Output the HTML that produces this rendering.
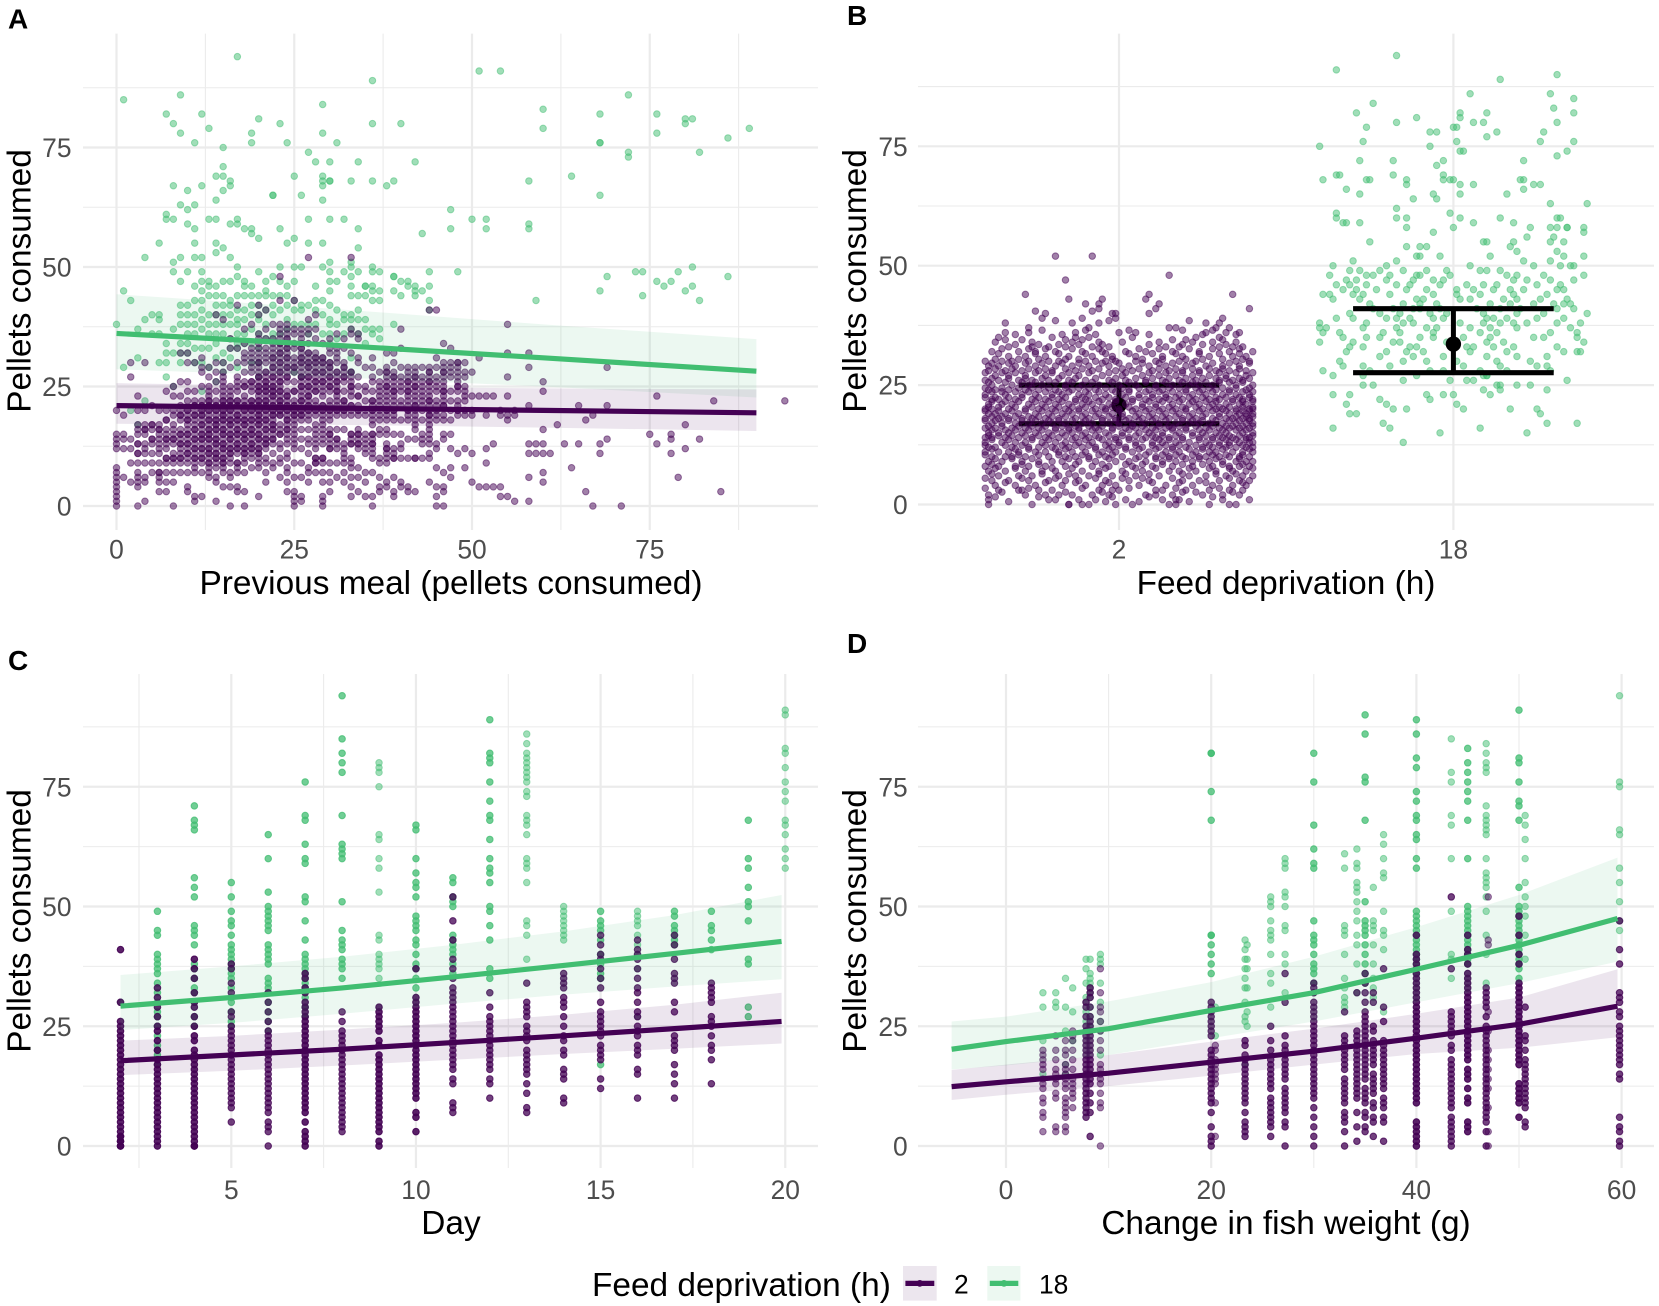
<!DOCTYPE html>
<html lang="en">
<head>
<meta charset="utf-8">
<title>Pellets consumed by feed deprivation</title>
<style>
html,body{margin:0;padding:0;background:#fff}
svg{display:block;font-family:"Liberation Sans",Arial,sans-serif}
.title{font-size:33.4px;fill:#000}
.letter{font-size:28px;font-weight:bold;fill:#000}
.tick{font-size:26.4px;fill:#4D4D4D}
.legtick{font-size:26.4px;fill:#000}
</style>
</head>
<body>
<svg id="fig" xmlns="http://www.w3.org/2000/svg" width="1659" height="1306" viewBox="0 0 1659 1306">
<rect x="0" y="0" width="1659" height="1306" fill="#fff"/>
<g id="panelA"></g>
<g id="panelB"></g>
<g id="panelC"></g>
<g id="panelD"></g>

<text class="letter" x="8" y="28.3">A</text>
<text class="letter" x="847" y="25">B</text>
<text class="letter" x="8" y="670">C</text>
<text class="letter" x="847" y="653">D</text>

<text class="title" x="451" y="594" text-anchor="middle">Previous meal (pellets consumed)</text>
<text class="title" x="1286" y="594" text-anchor="middle">Feed deprivation (h)</text>
<text class="title" x="451" y="1234" text-anchor="middle">Day</text>
<text class="title" x="1286" y="1234" text-anchor="middle">Change in fish weight (g)</text>

<text class="title" transform="translate(30.7,281) rotate(-90)" text-anchor="middle">Pellets consumed</text>
<text class="title" transform="translate(866,281) rotate(-90)" text-anchor="middle">Pellets consumed</text>
<text class="title" transform="translate(30.7,921) rotate(-90)" text-anchor="middle">Pellets consumed</text>
<text class="title" transform="translate(866,921) rotate(-90)" text-anchor="middle">Pellets consumed</text>

<g>
<text class="title" x="592" y="1295.8">Feed deprivation (h)</text>
<rect x="903" y="1266" width="33.7" height="34.6" fill="#ECE6EE"/>
<line x1="905.4" x2="934.3" y1="1283.4" y2="1283.4" stroke="#440154" stroke-width="5.2"/>
<circle cx="919.8" cy="1283.4" r="3.4" fill="#440154"/>
<text class="legtick" x="954" y="1293.4">2</text>
<rect x="987.3" y="1266" width="33.1" height="34.6" fill="#ECF8F1"/>
<line x1="989.8" x2="1018.3" y1="1283.4" y2="1283.4" stroke="#41BE71" stroke-width="5.2"/>
<circle cx="1004" cy="1283.4" r="3.4" fill="#41BE71"/>
<text class="legtick" x="1039" y="1293.4">18</text>
</g>
</svg>

<script>
// ---------- shared axis values ----------
const yMajorTicks = [0, 25, 50, 75];
const yMinorTicks = [12.5, 37.5, 62.5, 87.5];

// ---------- panel A: [previous meal, [pellets...]] ----------
const aTicks = [0, 25, 50, 75];
const aMinor = [12.5, 37.5, 62.5, 87.5];
const aPurple = [
[0,[0,1,2,3,4,5,6,7,8,12,13,14,15,20]],[1,[6,12,14,15,19]],[2,[5,9,12,14,27,30]],
[3,[0,4,5,6,7,9,11,13,15,16,17,20,23]],[4,[1,5,6,9,11,12,13,15,16,17,20,30]],[5,[7,9,11,13,14,16,17,21]],
[6,[3,5,6,7,9,11,12,13,14,15,16,17,20]],[7,[3,5,7,9,10,12,13,14,15,16,18,20,24]],
[8,[0,5,7,9,10,11,13,14,15,16,17,19,20,23,25]],[9,[7,9,10,11,12,13,14,15,16,18,19,20,21,23,26,32]],
[10,[3,4,7,9,10,11,12,13,14,15,16,17,18,19,20,22,24,26,30,32]],
[11,[1,2,7,8,9,10,11,12,13,14,15,16,17,18,19,20,21,22,24,30]],
[12,[2,7,9,10,11,12,13,14,15,16,17,18,19,20,21,22,25,28,29,31]],
[13,[6,7,8,9,10,11,12,13,14,15,16,17,18,19,20,21,22,23,24,25,27,29]],
[14,[1,5,6,8,9,10,11,12,13,14,15,16,17,18,19,20,21,22,24,26,28,30,40]],
[15,[4,7,8,9,10,11,12,13,14,15,16,17,18,19,20,21,22,23,24,25,26,27,28,30,39]],
[16,[0,4,6,7,9,10,11,12,13,14,15,16,17,18,19,20,21,22,23,24,25,29,33,35]],
[17,[3,4,7,8,9,11,12,13,14,15,16,17,18,19,20,21,22,24,25,26,27,30,33,42]],
[18,[0,3,7,9,10,11,12,13,14,15,16,17,18,19,20,21,22,23,25,26,28,30,31,32,34,37]],
[19,[8,10,11,12,13,14,15,16,17,18,19,20,21,22,24,25,26,28,29,30,31,32,33,38]],
[20,[2,8,9,10,11,12,13,14,15,16,17,18,19,20,21,22,23,24,25,26,27,28,29,30,31,32,33,34,35,36,40,42]],
[21,[5,7,9,10,12,13,14,15,16,17,18,19,20,21,22,23,24,25,26,27,28,30,31,32,33,35,37,41]],
[22,[8,9,11,13,14,15,16,17,18,19,20,21,22,23,24,25,26,27,28,29,30,31,32,33,34,35,38]],
[23,[6,9,10,12,13,15,16,17,19,20,21,22,23,24,25,26,27,28,29,30,31,32,33,34,35,36,37,38,43,48]],
[24,[3,5,7,8,10,11,13,14,15,16,17,18,19,20,21,22,23,24,26,27,28,29,30,31,32,33,34,35,36,37,38]],
[25,[0,1,2,3,6,9,12,13,14,15,16,17,18,19,20,21,22,24,26,28,29,30,31,33,34,36,37,43]],
[26,[1,2,6,9,12,14,16,18,19,20,21,22,23,24,25,26,27,28,29,30,31,32,33,34,35,36,37]],
[27,[5,7,8,11,13,14,16,18,19,20,21,22,23,24,25,26,27,28,29,30,31,32,34,36,37,39,52]],
[28,[7,9,10,12,13,14,15,16,17,19,20,21,22,24,25,26,27,28,29,30,31,32,35,37,40]],
[29,[0,1,2,5,7,9,10,13,14,15,16,17,18,19,20,21,23,24,25,26,27,28,29,30,31,34]],
[30,[3,5,7,9,12,13,14,15,16,18,19,20,21,22,24,25,26,27,28,29,30,32,33,35]],
[31,[6,9,12,13,14,16,19,20,21,22,23,24,25,26,27,28,30,31,32,33,36]],
[32,[5,7,9,10,11,12,13,16,19,20,21,22,24,26,27,28,29,30,33,35]],
[33,[2,4,6,8,9,10,13,14,15,19,20,21,23,24,25,26,27,28,32,36,37,52]],
[34,[3,6,8,12,13,14,15,16,19,20,21,23,25,27,30,31,35,36]],
[35,[2,5,7,11,12,13,14,15,19,20,22,24,25,29]],
[36,[0,2,7,10,11,12,13,14,15,17,18,19,20,21,22,24,26,27,29,31]],
[37,[3,4,6,9,10,15,16,18,19,20,21,22,23,24,25,26,28]],
[38,[4,5,9,10,11,12,13,15,16,18,19,20,21,22,23,24,25,26,27,28,29,32]],
[39,[2,3,6,10,11,12,15,18,19,20,21,22,23,24,25,26,27,28,30,32]],
[40,[4,5,10,12,13,15,18,21,22,24,25,26,27,29,33,37]],
[41,[3,4,10,14,18,19,20,21,22,23,24,25,26,27,28]],
[42,[3,10,14,16,17,18,19,20,21,22,23,24,25,26,27,28,29]],
[43,[10,13,14,15,18,20,21,22,23,24,25,26,27,29]],
[44,[5,10,11,13,14,15,16,17,18,19,20,21,22,23,24,25,26,27,28,29,41]],
[45,[0,2,4,8,12,13,18,19,20,21,22,24,25,26,27,29,31,41]],
[46,[0,3,4,7,14,15,18,19,21,22,23,24,25,26,27,28,29,30,34]],
[47,[6,8,12,15,18,20,22,24,27,28,29,30,33]],[48,[11,19,20,21,22,24,25,26,27,28,29,30]],
[49,[8,12,19,20,22,23,24,25,27,28,30]],[50,[5,11,19,20,23,28]],[51,[4,23,31]],[52,[4,9,12,19,23]],
[53,[4,13,23]],[54,[2,4,19,20]],[55,[2,18,19,23,27,32,38]],[56,[1,19,20]],[58,[1,6,11,13,21,29,32]],
[59,[11,13]],[60,[5,7,11,13,16,24,26]],[61,[11]],[62,[17]],[63,[13]],[64,[8]],[65,[13,21]],[66,[3,18]],
[67,[0,19]],[68,[11,13]],[69,[14,21,29]],[71,[0]],[75,[15]],[76,[13,23]],[78,[11,14,15]],[79,[6]],
[80,[12,17]],[82,[14]],[84,[22]],[85,[3]],[94,[22]]
];
// values seen more than once (the darker dots of panel A)
const aPurpleRepeated = [
[3,[11,13]],[4,[16]],[5,[14,17]],[6,[7,16]],[7,[10,14,18]],[8,[10,14]],[9,[10,13,15,19]],[10,[11,13,15,18,20]],
[11,[10,12,14,16,19,21]],[12,[10,12,14,15,17,19,20,21]],[13,[9,11,12,14,15,16,18,20,21,22]],
[14,[10,11,13,14,16,17,18,20,21]],[15,[9,10,12,13,15,16,18,19,20,21,22]],[16,[11,12,14,15,17,18,20,21,22]],
[17,[9,12,13,15,16,18,19,21,22]],[18,[11,12,14,15,17,18,20,21,25]],[19,[12,13,15,16,18,20,21,22,26]],
[20,[11,12,14,15,17,18,19,20,21,22,24,25,27,30]],[21,[13,14,16,18,20,21,22,24,25,26,28]],
[22,[14,16,17,19,20,21,23,24,25,27,29,31]],[23,[15,19,20,21,22,24,26,28,30,32,34]],
[24,[16,18,20,21,23,27,29,31,33,35]],[25,[19,20,21,24,29]],[26,[19,20,22,25,27,30,31,33]],
[27,[20,21,23,25,27,29,30,32]],[28,[9,10,20,24,26,28,30,31]],[29,[10,20,21,26,28,30,31]],
[30,[12,15,20,25,27,29,30]],[31,[14,20,24,26,28]],[32,[20,22,27,29]],[33,[13,15,21,25,28]],[34,[13,15,20,23]],
[36,[13,15,20,22]],[38,[12,20,25,28]],[39,[10,20,24,27]],[41,[20,24,26,29]],[42,[10,21,25,27]],[44,[19,22,26,28]],
[46,[21,24,28]],[48,[20,25,30]]
];
const aGreen = [
[0,[38]],[1,[29,45,85]],[2,[20,43]],[3,[31,37,17]],[4,[22,39,52]],[5,[36,40]],[6,[30,36,39,40,55]],
[7,[27,30,32,34,60,61,82]],[8,[25,32,37,49,51,60,67,80]],[9,[30,32,34,38,40,42,47,52,63,78,86]],
[10,[32,34,36,38,40,42,49,59,62,66]],[11,[30,33,36,38,40,43,46,52,55,58,63,76]],
[12,[24,30,33,37,39,41,43,45,47,49,52,67,82]],[13,[29,33,36,38,40,44,46,47,60,79]],
[14,[26,31,34,36,38,40,42,44,46,53,55,60,64,69]],[15,[28,30,32,36,38,40,42,44,47,54,66,69,71,75]],
[16,[31,33,35,38,40,42,43,47,52,59,67,68]],[17,[29,33,34,36,38,39,41,44,48,50,59,60,94]],
[18,[34,36,39,41,44,46,47,58]],[19,[30,34,37,40,42,44,46,57,58,76,78]],
[20,[27,30,33,36,39,40,42,44,49,56,81]],[21,[35,38,41,44,45,47]],[22,[35,36,40,42,44,48,65,65]],
[23,[36,41,44,47,50,58,80]],[24,[37,39,42,44,46,55,76]],[25,[28,38,41,43,47,50,56,69]],
[26,[27,38,41,42,50,65]],[27,[36,38,42,55,60,74]],[28,[38,41,43,46,72]],
[29,[36,40,43,50,55,64,67,68,69,78,84]],[30,[34,36,38,39,42,45,47,49,51,60,68,68,72]],
[31,[35,38,41,47,76]],[32,[36,39,40,49,60]],[33,[28,31,37,39,40,44,46,48,50,51,68]],
[34,[36,39,41,44,49,54,58,72]],[35,[34,37,39,44,46,46]],[36,[36,37,43,45,46,49,50,68,80,89]],
[37,[35,37,43,45,49]],[38,[67]],[39,[38,45,48,48,68]],[40,[44,47,80]],[41,[46,47]],[42,[44,45,46,72]],
[43,[45,57]],[44,[41,43,46,49]],[47,[58,62]],[48,[49]],[50,[60]],[51,[91]],[52,[58,60]],[54,[91]],
[58,[58,59,68]],[59,[43]],[60,[79,83]],[64,[69]],[68,[45,65,76,76,82]],[69,[48]],[72,[73,74,86]],
[73,[49]],[74,[44,49]],[76,[47,78,82]],[77,[46]],[78,[47]],[79,[49]],[80,[45,80,81]],[81,[46,50,81]],
[82,[43,74]],[86,[48,77]],[89,[79]]
];
const aFitX = [0, 30, 60, 90];
const aFit2 = [21, 20.5, 20, 19.5];
const aLow2 = [17.2, 17, 16.4, 15.7];
const aHigh2 = [25.7, 25, 24.6, 24.4];
const aFit18 = [36.1, 33.7, 31, 28.2];
const aLow18 = [28.6, 27, 25, 22.7];
const aHigh18 = [44.3, 41.3, 38, 34.9];

// ---------- panel B: [pellets, [horizontal jitter, hundredths of a category...]] ----------
const bCategories = ["2", "18"];
const bPurple = [
[0,[-39,-26,-15,-15,-11,-9,-1,4,15,17,27,33,35]],
[1,[-39,-19,-21,-12,-7,2,13,17,18,31,39]],
[2,[-39,-28,-22,-18,-14,-8,-3,8,11,16,25,31,36]],
[3,[-36,-30,-29,-24,-20,-6,-2,0,11,13,20,27,33,37]],
[4,[-37,-31,-25,-17,-10,-5,-1,6,14,22,28,34,38]],
[5,[-38,-33,-27,-21,-16,-12,-4,3,9,19,24,30,36,39]],
[6,[-36,-30,-26,-18,-13,-9,-2,5,12,21,26,32,37,40]],
[7,[-39,-34,-28,-23,-19,-11,-6,1,7,15,18,23,29,34,38]],
[8,[-40,-36,-31,-27,-22,-16,-8,-3,4,10,16,22,28,33,36,39]],
[9,[-39,-35,-29,-24,-20,-17,-12,-7,-1,3,8,13,17,22,27,31,35,38,40]],
[10,[-38,-34,-32,-28,-21,-16,-13,-9,-4,1,6,11,15,19,24,26,30,33,36,39]],
[11,[-40,-36,-33,-30,-25,-22,-18,-14,-10,-5,-1,4,9,14,18,23,27,29,34,37,40]],
[12,[-39,-37,-32,-27,-24,-20,-15,-11,-7,-2,2,7,12,16,20,25,28,32,35,38,40]],
[13,[-40,-35,-31,-28,-23,-19,-16,-12,-8,-3,0,5,10,13,17,21,26,30,33,36,39,40]],
[14,[-40,-38,-34,-30,-26,-22,-18,-13,-9,-6,-1,3,8,11,15,19,24,28,31,34,38,39]],
[15,[-39,-36,-33,-29,-25,-21,-17,-14,-10,-4,1,6,9,13,18,22,25,29,32,37,40]],
[16,[-40,-37,-32,-28,-24,-19,-15,-12,-7,-2,2,5,10,14,16,20,26,30,33,36,39]],
[17,[-38,-35,-31,-27,-23,-20,-16,-11,-8,-3,0,4,8,12,17,21,24,27,31,35,38,40]],
[18,[-40,-36,-33,-29,-26,-22,-18,-13,-9,-5,-1,3,7,11,15,19,23,28,32,34,37,39]],
[19,[-39,-37,-34,-30,-25,-21,-17,-14,-10,-6,-2,1,6,10,14,18,22,26,30,33,36,38,40]],
[20,[-40,-38,-33,-28,-24,-20,-16,-12,-7,-4,0,5,9,13,17,20,25,29,31,35,39,40]],
[21,[-39,-35,-32,-27,-23,-19,-15,-11,-8,-3,2,7,11,16,21,24,28,32,36,38]],
[22,[-38,-36,-31,-26,-22,-18,-13,-10,-5,-1,4,8,12,15,19,23,27,30,34,37,40]],
[23,[-40,-34,-29,-25,-20,-17,-12,-9,-4,1,6,10,14,18,22,26,31,35,39]],
[24,[-39,-37,-33,-28,-24,-19,-14,-7,-2,3,9,13,20,25,29,33,38]],
[25,[-38,-32,-27,-23,-16,-11,-6,0,5,11,16,21,24,28,35,40]],
[26,[-40,-36,-30,-26,-21,-15,-10,-3,2,8,13,18,23,30,34,37]],
[27,[-37,-33,-28,-22,-17,-12,-5,1,7,12,17,22,27,32,38]],
[28,[-39,-34,-29,-24,-20,-13,-8,-1,4,10,15,19,24,29,33,38]],
[29,[-39,-36,-31,-25,-19,-14,-9,-3,3,9,14,20,26,31,36]],
[30,[-40,-35,-32,-27,-21,-18,-10,-7,-4,-1,5,11,18,23,35,39]],
[31,[-33,-28,-22,-15,-8,-2,5,13,19,27,34,38]],
[32,[-38,-30,-25,-19,-11,-5,2,8,16,24,33,40]],
[33,[-33,-26,-21,-16,-8,-3,14,18,30,34,37]],
[34,[-37,-26,-14,-6,1,12,22,28,35]],
[35,[-36,-20,-13,-9,4,23,30]],
[36,[-34,-27,-13,0,5,26,32,36]],
[37,[-27,-9,15,17,29,33]],
[38,[-34,-14,-6,26,30]],
[39,[-23,-1,-11,31]],
[40,[-22,-2,-1,9]],
[41,[-6,11,39]],
[42,[-10,-6,12]],
[43,[-5,8,-15]],
[44,[-28,9,34]],
[47,[-16]],
[48,[15]],
[52,[-19,-8]]
];
// additional jittered readings that fall between whole pellet values
const bPurpleBetween = [
[0.6,[-33,-4,6,21]],[1.6,[-37,-24,-2,9,28]],[2.6,[-35,-16,-5,19,23,34]],[3.4,[-40,-27,-11,3,17,30]],
[4.6,[-34,-22,-13,-3,10,18,26,37]],[5.5,[-40,-29,-19,-7,1,7,16,33]],[6.4,[-38,-23,-15,-6,2,9,19,29,35]],
[7.6,[-37,-31,-20,-14,-4,5,11,21,27,33,40]],[8.4,[-38,-29,-24,-13,-5,2,7,13,19,25,31,37]],
[9.6,[-37,-32,-26,-15,-9,-3,5,11,15,20,24,29,36]],[10.4,[-40,-30,-24,-18,-11,-6,-2,8,13,17,22,28,32,37]],
[11.6,[-38,-31,-27,-19,-16,-7,-3,2,6,11,16,21,25,31,39]],[12.4,[-40,-34,-29,-22,-17,-13,-9,-4,0,5,10,14,18,23,27,30,33,37]],
[13.6,[-38,-33,-26,-21,-14,-10,-5,-1,3,7,12,15,19,24,28,32,35,38]],
[14.4,[-39,-36,-32,-28,-24,-20,-16,-11,-7,-3,1,5,10,13,17,22,26,30,33,36,40]],
[15.6,[-38,-34,-31,-27,-23,-19,-15,-12,-8,-6,-2,3,8,11,16,20,24,27,31,35,38]],
[16.4,[-39,-35,-30,-26,-22,-17,-13,-9,-5,0,4,7,12,15,18,23,28,32,34,37,40]],
[17.6,[-40,-37,-33,-29,-25,-21,-18,-14,-10,-5,-1,2,6,10,14,19,22,25,29,33,36,39]],
[18.4,[-38,-35,-31,-27,-24,-20,-16,-11,-7,-3,1,5,9,13,17,21,25,30,35,38,40]],
[19.6,[-40,-36,-32,-28,-23,-19,-15,-12,-8,-4,0,4,8,12,16,20,24,28,32,35,37,39]],
[20.4,[-39,-36,-31,-26,-22,-18,-14,-10,-5,-2,3,7,11,15,19,23,27,30,33,37,40]],
[21.6,[-38,-34,-30,-25,-21,-17,-13,-9,-6,-1,4,9,13,18,22,26,29,34,37,40]],
[22.4,[-40,-37,-33,-29,-24,-20,-16,-11,-7,-3,2,6,10,14,17,21,25,29,32,36,39]],
[23.6,[-38,-35,-31,-27,-22,-18,-15,-10,-6,-1,3,8,12,16,20,24,28,33,37,40]],
[24.4,[-40,-35,-30,-26,-21,-16,-12,-9,-4,1,6,11,15,18,23,27,31,35,39]],
[25.6,[-39,-34,-29,-25,-19,-14,-8,-2,3,8,14,19,22,26,30,33,37]],
[26.4,[-38,-33,-28,-23,-18,-13,-7,-1,5,10,15,20,25,29,32,36,39]],
[27.6,[-40,-35,-31,-25,-20,-15,-9,-3,2,9,14,19,24,30,35,40]],
[28.4,[-37,-32,-27,-22,-16,-11,-6,1,6,12,17,22,27,31,36]],
[29.6,[-38,-33,-28,-23,-17,-12,-5,0,7,12,16,22,28,33,39]],
[30.4,[-37,-30,-24,-16,-12,-2,7,13,20,25,31,37]],
[31.6,[-36,-25,-18,-10,-4,3,10,17,24,30,36]],[32.6,[-35,-27,-22,-14,-6,6,12,21,28,36]],
[33.5,[-31,-24,-18,-12,-5,9,19,25,32]],[34.5,[-34,-29,-16,-11,16,20,31]],[35.6,[-31,-17,-7,9,25,35]],
[36.5,[-23,-10,3,19,28]],[38.5,[-19,-3,21]],[40.5,[-25,-8]]
];
const bGreen = [
[-17,94],[-35,91],[14,89],[31,90],[29,86],[36,85],[5,86],[-24,84],[30,83],[-29,82],[2,82],[36,82],[2,81],[-26,79],[-17,80],[-11,81],[6,80],[9,80],[10,82],[0,79],[1,79],[-7,78],[-5,78],[10,77],[13,78],[27,78],[31,80],[-27,76],[-7,75],[1,76],[26,76],[36,76],[-40,75],[2,74],[3,74],[34,74],[31,73],[-28,72],[-18,72],[-5,71],[-3,72],[21,72],[-35,69],[-34,69],[-39,68],[-18,69],[-26,68],[-25,68],[-3,69],[-3,68],[-1,68],[0,68],[2,67],[6,67],[-14,68],[-14,67],[20,68],[21,66],[24,67],[26,67],[21,68],[-32,66],[-28,65],[-6,65],[-5,64],[2,65],[16,65],[-12,64],[29,63],[40,63],[-1,61],[-17,62],[-35,61],[-35,60],[-17,60],[-32,59],[-33,59],[-28,59],[2,60],[-14,60],[14,60],[18,59],[31,60],[32,60],[6,59],[23,58],[-14,58],[29,58],[31,58],[34,58],[34,58],[39,58],[-6,57],[0,58],[30,56],[39,57],[22,56],[18,55],[29,55],[33,55],[9,55],[10,55],[-25,55],[17,54],[-14,54],[-10,54],[-8,54],[19,53],[31,53],[-4,52],[33,52],[39,52],[-10,52],[11,52],[-11,52],[29,51],[21,51],[-30,51],[32,50],[35,50],[36,50],[-36,50],[-20,50],[-17,51],[5,50],[24,50],
[-31,49],[-28,49],[-22,49],[-15,49],[-8,49],[-2,49],[8,49],[10,49],[14,49],[-37,48],[-26,48],[-24,48],[-19,48],[-11,48],[-10,48],[-1,48],[16,48],[19,48],[27,48],[39,48],
[-32,47],[-29,47],[-20,47],[-12,47],[-6,47],[-3,47],[18,47],[22,47],[29,47],[36,47],[-35,46],[-31,46],[-26,46],[-17,46],[-13,46],[-4,46],[4,46],[9,46],[13,46],[25,46],[32,46],[-33,45],[-29,45],[-23,45],[-14,45],[-8,45],[1,45],[6,45],[12,45],[17,45],[21,45],[31,45],[33,45],
[-39,44],[-37,44],[-30,44],[-27,44],[-19,44],[-6,44],[1,44],[8,44],[18,44],[28,44],[-36,43],[-28,43],[-11,43],[-9,43],[2,43],[5,43],[15,43],[19,43],[26,43],[34,43],[-25,42],[-15,42],[-10,42],[-5,42],[11,42],[17,42],[24,42],[30,42],[33,42],[35,42],
[-24,41],[-18,41],[-12,41],[-10,41],[-4,41],[7,41],[14,41],[20,41],[31,41],[36,41],[-31,40],[-22,40],[-16,40],[-7,40],[-2,40],[9,40],[19,40],[27,40],[40,40],[-35,39],[-30,39],[-20,39],[-17,39],[-13,39],[-6,39],[-3,39],[10,39],[12,39],[16,39],[25,39],[33,39],
[-40,38],[-26,38],[-15,38],[-12,38],[2,38],[9,38],[14,38],[18,38],[22,38],[31,38],[38,38],[-40,37],[-38,37],[-27,37],[-17,37],[-8,37],[-5,37],[5,37],[11,37],[19,37],[35,37],[-39,36],[-34,36],[-21,36],[-16,36],[-6,36],[8,36],[13,36],[29,36],[37,36],
[-33,35],[-26,35],[-22,35],[-10,35],[-6,35],[3,35],[11,35],[24,35],[27,35],[37,35],[-40,34],[-30,34],[-18,34],[-16,34],[-2,34],[10,34],[15,34],[39,34],[-31,33],[-27,33],[-13,33],[-11,33],[4,33],[6,33],[12,33],[18,33],[31,33],[-32,32],[-20,32],[-14,32],[-9,32],[5,32],[16,32],[33,32],[37,32],[38,32],
[-22,31],[-12,31],[-3,31],[10,31],[19,31],[28,31],[-34,30],[-15,30],[-8,30],[1,30],[13,30],[23,30],[-33,29],[-27,29],[-19,29],[3,29],[14,29],[25,29],[28,29],[-39,28],[-25,28],[-7,28],[-3,28],[8,28],[16,28],[29,28],[-27,27],[-11,27],[9,27],[10,27],[-36,27],[-15,26],
[-1,26],[34,26],[-27,25],[-24,25],[4,26],[6,26],[10,27],[14,25],[23,25],[19,25],[13,25],[9,24],[11,23],[14,24],[28,24],[-36,23],[-31,23],[-8,23],[-7,22],[-3,23],[0,23],[-22,22],[-20,21],[-32,21],[1,21],[3,20],[-31,19],[-29,19],[-18,20],[-14,20],[17,20],[25,20],[26,19],[28,17],[37,17],[-21,17],[-19,16],[-36,16],[8,16],[-4,15],[22,15],[-15,13]
];
const bLow = [16.9, 27.6];
const bHigh = [25, 41];
const bMean = [20.8, 33.6];

// ---------- panel C: [day, [pellets...]] ----------
const cTicks = [5, 10, 15, 20];
const cMinor = [2.5, 7.5, 12.5, 17.5];
const cPurple = [
[2,[0,0,1,1,2,2,3,4,5,6,7,8,9,10,11,12,13,14,15,16,17,18,19,20,21,22,23,24,25,26,30,41]],
[3,[0,1,2,3,4,5,6,7,8,9,10,11,12,13,14,15,16,17,18,20,22,24,25,27,29,31,33]],
[4,[0,0,1,2,3,4,5,6,7,8,9,10,11,12,13,14,15,16,17,18,19,20,22,23,25,27,29,30,32,35,37,39]],
[5,[5,8,9,10,11,12,13,14,15,16,17,18,19,20,21,22,23,24,25,27,28,32,34,37,38]],
[6,[0,3,4,5,7,8,9,10,11,12,13,14,15,16,17,18,19,20,21,22,23,24,26,28,30,32]],
[7,[0,1,2,3,5,7,8,9,10,11,12,13,14,15,16,17,18,19,20,21,22,23,24,25,26,27,28,29,30,32,33,35,36]],
[8,[3,4,5,6,7,8,9,10,11,12,13,14,15,16,17,18,19,20,21,22,23,24,26,28]],
[9,[0,1,3,4,5,6,7,8,9,10,11,12,13,14,15,16,17,18,19,21,22,24,25,26,27,28,29]],
[10,[3,6,7,10,11,12,13,14,15,16,17,18,19,20,21,22,23,24,25,26,27,28,29,30,31,37]],
[11,[7,8,9,13,14,16,17,18,19,20,21,22,23,24,25,26,27,28,29,30,31,32,33,35,37,39,43,47,52]],
[12,[10,13,14,16,17,18,19,20,21,22,23,24,25,26,27,29,32]],
[13,[7,8,11,13,15,16,17,18,19,20,22,23,24,25,27,28,29,30,34]],
[14,[9,10,14,15,16,19,20,22,23,25,27,29,30,31,33,34,35,36]],
[15,[12,14,18,19,20,21,23,24,25,26,27,28,30,33,35,37,39,40,42,44]],
[16,[10,15,16,19,20,21,23,24,25,27,28,30,32,33,35,37,39,40,41,43]],
[17,[10,13,15,17,20,21,22,23,28,30,34,35,36,39,42,44]],
[18,[13,18,20,21,23,25,26,27,30,31,32,33,34]]
];
// how many observations share each value in a column
const cPurpleCount = [3,3,3,2,2,3,2,3,3,2,2,2,2,2,2,2,2];
const cGreen = [
[2,[30]],[3,[17,19,20,21,23,25,27,28,30,32,34,36,37,38,39,40,44,45,49]],
[4,[25,27,30,32,33,35,37,38,42,44,45,46,52,54,56,66,67,68,71]],
[5,[25,26,28,30,31,33,35,36,37,38,39,40,41,42,44,46,47,49,52,55]],
[6,[24,26,28,30,32,33,34,35,38,39,40,41,42,45,46,47,48,49,50,53,60,65]],
[7,[27,29,31,33,34,35,36,37,38,39,40,43,47,51,52,59,60,63,68,69,76]],
[8,[35,37,38,39,41,42,43,45,51,60,61,62,63,69,78,80,82,85,94]],
[9,[35,37,38,39,40,43,44,53,58,60,64,65,75,78,79,80]],
[10,[33,35,37,38,40,42,43,45,46,47,48,52,54,55,57,60,66,67]],
[11,[36,38,40,41,42,43,44,50,51,52,55,56]],
[12,[35,37,43,46,49,50,55,57,58,60,64,68,69,72,76,80,81,82,89]],
[13,[39,44,46,47,55,58,59,60,65,67,68,69,73,74,76,77,78,79,80,81,82,84,86]],
[14,[43,44,45,46,47,48,49,50]],[15,[17,35,36,38,40,43,45,46,47,49]],
[16,[27,37,40,42,44,46,47,48,49]],[17,[42,43,44,45,46,48,49]],[18,[41,43,45,46,49]],
[19,[27,29,38,39,47,50,51,54,58,60,68]],[20,[58,60,62,65,67,68,72,74,76,79,82,83,90,91]]
];
const cGreenCount = [1,2,2,2,2,2,2,1,2,2,2,1,1,2,1,2,2,2,1,1];
const cFitX = [2, 5, 8, 11, 14, 17, 19.9];
const cFit2 = [17.8, 19, 20.2, 21.6, 23, 24.5, 26];
const cLow2 = [14.8, 15.7, 16.8, 18, 19.2, 20.3, 21.4];
const cHigh2 = [22, 23, 24.3, 25.7, 27.4, 29.5, 32];
const cFit18 = [29.2, 31, 33, 35.3, 37.7, 40.2, 42.7];
const cLow18 = [24.2, 25.7, 27.6, 29.7, 31.6, 33.3, 34.8];
const cHigh18 = [35.7, 37.5, 39.5, 42, 44.8, 48.2, 52.4];

// ---------- panel D: [weight change, [pellets...]] ----------
const dTicks = [0, 20, 40, 60];
const dMinor = [10, 30, 50];
const dPurple = [
[3.6,[3,6,7,9,10,12,13,14,16,17,18,19,20]],[4.85,[3,4,10,11,13,14,15,16,18,20,23]],
[5.8,[3,4,6,7,8,9,10,12,13,14,15,16,17,19,20,22]],[6.5,[8,10,11,12,13,14,16,18,20,22,23,24]],
[7.8,[6,7,8,9,10,11,12,13,14,15,16,17,18,19,20,21,22,23,24,25,27,29,30]],
[8.2,[2,7,9,11,13,14,15,16,17,18,19,20,21,22,23,24,25,26,27,29,31,32,33]],
[9.2,[0,8,9,11,13,14,15,16,17,20,22,24,26,28,29,32,37]],
[20,[0,1,2,4,7,9,10,11,12,13,14,15,16,17,18,19,20,23,24,25,26,27,28,29,30]],
[20.4,[2,9,13,14,15,16,17,18,20,21]],
[23.3,[2,3,4,5,7,9,10,11,12,13,14,15,16,17,18,19,21,22]],
[25.8,[2,4,5,6,7,8,9,10,12,13,14,15,16,17,18,20,22,25]],
[27.2,[0,4,5,7,8,9,10,11,12,14,15,16,17,18,19,20,21,23,30,36]],
[30,[0,2,4,6,8,10,11,12,13,14,15,16,17,18,19,20,21,22,23,24,25,26,27,28,29,30,32,33,34]],
[33,[0,3,5,6,7,9,10,11,12,13,14,16,17,18,19,20,21,22,23,28]],
[34.2,[1,4,7,10,11,12,13,14,15,16,17,18,19,20,21,22,23,24,32]],
[35,[3,4,6,7,9,10,11,12,14,15,16,17,18,19,20,21,22,23,24,25,26,27,28,30,32,34,36]],
[35.8,[2,5,6,8,9,11,12,13,14,15,17,18,19,20,21,22,24,25,30,32]],
[36.8,[1,5,6,8,9,10,12,13,14,15,16,17,18,19,20,21,22,26,29,37]],
[40,[0,1,2,3,4,5,9,10,11,12,13,14,15,16,17,18,19,20,21,22,23,24,25,26,27,28,29,30,31,32,33,34,35,36,37,38,39,40,44]],
[43.4,[0,1,2,3,4,5,6,8,9,10,11,12,13,14,15,16,17,18,20,21,23,24,25,26,27,28,37,52]],
[45,[3,4,5,9,10,12,14,15,16,18,19,20,21,22,23,24,25,26,27,28,29,30,31,32,33,34,35,36,38,40,41,44]],
[46.8,[0,3,5,6,7,8,9,10,11,12,13,14,15,16,17,18,19,20,21,22,23,24,25,27,29,30,31,32,33]],
[47,[0,3,8,12,14,16,18,20,24,28,42,43,52]],
[50,[6,9,10,11,12,13,17,18,19,20,21,22,23,24,25,26,27,28,29,30,31,32,33,34,38,40,44,48]],
[50.6,[4,5,8,9,10,11,12,13,14,15,16,17,18,20,22,23,29]],
[59.8,[0,1,3,4,6,14,15,17,18,19,20,21,22,23,24,25,27,28,30,31,32,38,41,47]]
];
const dPurpleCount = [1,1,1,1,2,2,1,2,1,2,2,2,2,2,2,2,2,2,3,2,3,2,1,3,2,2];
const dGreen = [
[3.6,[15,22,29,32]],[4.85,[29,30,32]],[5.8,[15,17,24,29,35]],[6.5,[22,28,33]],
[7.8,[24,26,28,30,31,34,37,39]],[8.2,[24,25,27,29,31,32,33,34,35,36,39]],[9.2,[19,24,26,30,34,38,39,40]],
[20,[36,38,40,42,44,44,68,74,82,82]],[20.4,[23,29]],[23.3,[17,26,27,30,33,35,37,39,41,43]],
[23.5,[25,28,33,37,39,42]],[25.8,[29,34,36,40,43,44,45,47,50,51,52]],[27.2,[32,38,40,45,46,50,52,53,58,59,60]],
[30,[32,34,36,37,38,40,42,43,44,47,58,59,62,67,76,82]],[33,[29,30,31,33,35,40,44,45,46,58,61]],
[34.2,[32,38,42,44,47,49,51,53,54,55,58,59,62]],[35,[34,36,38,40,42,44,45,46,47,51,68,76,77,86,90]],
[35.8,[31,33,35,38,42,45,46,47,54]],[36.8,[28,41,44,45,49,56,57,60,63,65]],
[40,[36,37,38,39,40,41,42,43,44,45,46,47,48,49,58,60,64,65,68,69,72,74,79,81,86,89]],
[43.4,[35,39,40,49,60,67,69,76,78,85]],
[45,[38,39,40,41,42,43,44,45,46,47,48,49,50,60,68,72,74,76,78,80,83]],
[46.8,[34,40,44,49,52,54,55,56,57,60,65,66,67,68,69,71,78,79,80,82,84]],
[50,[35,37,38,39,40,41,42,43,44,45,46,47,48,49,50,54,68,71,72,76,80,81,91]],
[50.6,[39,44,48,50,52,55,60,64,67,69]],[59.8,[45,47,51,55,58,65,66,75,76,94]]
];
const dGreenCount = [1,1,1,1,1,1,1,2,1,1,1,1,1,2,1,1,2,1,1,2,1,2,1,2,1,1];
const dFitX = [-5.3, 0, 10, 20, 30, 40, 50, 59.6];
const dFit2 = [12.4, 13.4, 15.2, 17.5, 19.8, 22.5, 25.4, 29.2];
const dLow2 = [9.6, 10.7, 12.5, 14.7, 17, 19.2, 20.5, 22.7];
const dHigh2 = [15.9, 17, 19, 21.8, 24.5, 27.6, 31, 36.9];
const dFit18 = [20.2, 21.8, 24.5, 28.3, 32, 36.9, 41.9, 47.5];
const dLow18 = [16, 16.8, 19, 22.5, 26, 30, 34, 38.5];
const dHigh18 = [26, 27, 30.2, 34.2, 39.5, 45.7, 52.4, 60.2];

// ---------- axis functions ----------
const NS = "http://www.w3.org/2000/svg";
const PURPLE = "#440154", GREEN = "#41BE71";
const xA = v => 116.5 + 7.11 * v;
const yA = v => 506 - 4.78 * v;
const xB = i => 1119 + 334.4 * i;
const yB = v => 504.5 - 4.776 * v;
const xC = v => 231.3 + 36.93 * (v - 5);
const yC = v => 1146 - 4.79 * v;
const xD = v => 1006 + 10.26 * v;
const yD = v => 1146 - 4.79 * v;

function mk(parent, tag, attrs) {
  const el = document.createElementNS(NS, tag);
  for (const k in attrs) el.setAttribute(k, attrs[k]);
  parent.appendChild(el);
  return el;
}

function drawPoint(g, px, py, color, name) {
  const c = mk(g, "circle", {cx: px, cy: py, r: 3.25, fill: color, "fill-opacity": 0.5, stroke: color, "stroke-opacity": 0.5, "stroke-width": 1});
  
  
}

function drawGrid(g, box, sx, sy, xMajor, xMinor, xLabels, tickRight, tickBase) {
  yMinorTicks.forEach(v => {
    const l = mk(g, "line", {x1: box.L, x2: box.R, y1: sy(v), y2: sy(v), stroke: "#EBEBEB", "stroke-width": 1.1});
    
    
  });
  xMinor.forEach(v => {
    const l = mk(g, "line", {x1: sx(v), x2: sx(v), y1: box.T, y2: box.B, stroke: "#EBEBEB", "stroke-width": 1.1});
    
    
  });
  yMajorTicks.forEach(v => {
    const l = mk(g, "line", {x1: box.L, x2: box.R, y1: sy(v), y2: sy(v), stroke: "#EBEBEB", "stroke-width": 2.2});
    
    
    const t = mk(g, "text", {x: tickRight, y: sy(v) + 9.5, "text-anchor": "end", class: "tick"});
    t.textContent = String(v);
    
    
  });
  xMajor.forEach((v, i) => {
    const l = mk(g, "line", {x1: sx(v), x2: sx(v), y1: box.T, y2: box.B, stroke: "#EBEBEB", "stroke-width": 2.2});
    
    
    const t = mk(g, "text", {x: sx(v), y: tickBase, "text-anchor": "middle", class: "tick"});
    t.textContent = xLabels[i];
    
    
  });
}

function drawColumns(g, cols, sx, sy, color, name, counts) {
  cols.forEach((col, i) => {
    const n = counts ? counts[i] : 1;
    col[1].forEach(v => {
      for (let k = 0; k < n; k++) drawPoint(g, sx(col[0]), sy(v), color, name);
    });
  });
}

function drawFit(g, xs, low, high, fit, sx, sy, color, name) {
  let d = "";
  xs.forEach((x, i) => { d += (i ? "L" : "M") + sx(x) + " " + sy(high[i]); });
  for (let i = xs.length - 1; i >= 0; i--) d += "L" + sx(xs[i]) + " " + sy(low[i]);
  const r = mk(g, "path", {d: d + "Z", fill: color, "fill-opacity": 0.1});
  
  
  let f = "";
  xs.forEach((x, i) => { f += (i ? "L" : "M") + sx(x) + " " + sy(fit[i]); });
  const p = mk(g, "path", {d: f, fill: "none", stroke: color, "stroke-width": 5.2});
  
  
}

// ---------- panel A ----------
const gA = document.getElementById("panelA");
drawGrid(gA, {L: 83, R: 818, T: 33.6, B: 530}, xA, yA, aTicks, aMinor, aTicks.map(String), 71.5, 558.6);
drawColumns(gA, aGreen, xA, yA, GREEN, "point-18h");
drawColumns(gA, aPurple, xA, yA, PURPLE, "point-2h");
drawColumns(gA, aPurpleRepeated, xA, yA, PURPLE, "point-2h");
drawFit(gA, aFitX, aLow18, aHigh18, aFit18, xA, yA, GREEN, "fit-18h");
drawFit(gA, aFitX, aLow2, aHigh2, aFit2, xA, yA, PURPLE, "fit-2h");

// ---------- panel B ----------
const gB = document.getElementById("panelB");
drawGrid(gB, {L: 918, R: 1654, T: 33.6, B: 530}, xB, yB, [0, 1], [], bCategories, 907.7, 558.6);
bGreen.forEach(pt => {
  drawPoint(gB, xB(1 + pt[0] / 100), yB(pt[1]), GREEN, "point-18h");
});
bCategories.forEach((cat, i) => {
  const v = mk(gB, "line", {x1: xB(i), x2: xB(i), y1: yB(bLow[i]), y2: yB(bHigh[i]), stroke: "#000", "stroke-width": 5});
  
  
  const lo = mk(gB, "line", {x1: xB(i - 0.3), x2: xB(i + 0.3), y1: yB(bLow[i]), y2: yB(bLow[i]), stroke: "#000", "stroke-width": 5.2});
  
  
  const hi = mk(gB, "line", {x1: xB(i - 0.3), x2: xB(i + 0.3), y1: yB(bHigh[i]), y2: yB(bHigh[i]), stroke: "#000", "stroke-width": 5.2});
  
  
  const m = mk(gB, "circle", {cx: xB(i), cy: yB(bMean[i]), r: 7.7, fill: "#000"});
  
  
});
bPurple.forEach(row => {
  row[1].forEach(j => {
    drawPoint(gB, xB(j / 100), yB(row[0]), PURPLE, "point-2h");
  });
});
bPurpleBetween.forEach(row => {
  row[1].forEach(j => {
    drawPoint(gB, xB(j / 100), yB(row[0]), PURPLE, "point-2h");
  });
});

// ---------- panel C ----------
const gC = document.getElementById("panelC");
drawGrid(gC, {L: 83, R: 818, T: 674, B: 1168}, xC, yC, cTicks, cMinor, cTicks.map(String), 71.5, 1198.9);
drawColumns(gC, cGreen, xC, yC, GREEN, "point-18h", cGreenCount);
drawColumns(gC, cPurple, xC, yC, PURPLE, "point-2h", cPurpleCount);
drawFit(gC, cFitX, cLow18, cHigh18, cFit18, xC, yC, GREEN, "fit-18h");
drawFit(gC, cFitX, cLow2, cHigh2, cFit2, xC, yC, PURPLE, "fit-2h");

// ---------- panel D ----------
const gD = document.getElementById("panelD");
drawGrid(gD, {L: 918, R: 1654, T: 674, B: 1168}, xD, yD, dTicks, dMinor, dTicks.map(String), 907.7, 1198.9);
drawColumns(gD, dGreen, xD, yD, GREEN, "point-18h", dGreenCount);
drawColumns(gD, dPurple, xD, yD, PURPLE, "point-2h", dPurpleCount);
drawFit(gD, dFitX, dLow18, dHigh18, dFit18, xD, yD, GREEN, "fit-18h");
drawFit(gD, dFitX, dLow2, dHigh2, dFit2, xD, yD, PURPLE, "fit-2h");
</script>
</body>
</html>
